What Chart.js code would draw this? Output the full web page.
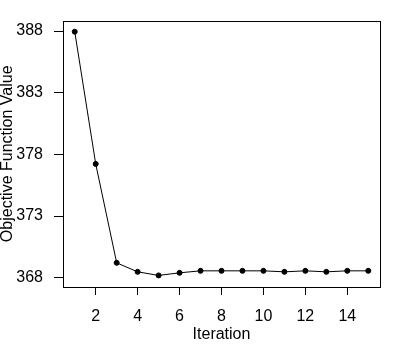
<!DOCTYPE html>
<html>
<head>
<meta charset="utf-8">
<script src="https://cdn.jsdelivr.net/npm/chart.js@4"></script>
<style>
  html, body { margin: 0; padding: 0; background: #fff; }
  #wrap { width: 400px; height: 345px; }
</style>
</head>
<body>
<div id="wrap"><canvas id="grafico" width="400" height="345"></canvas></div>
<script>
// dados
const iteracoes = [1, 2, 3, 4, 5, 6, 7, 8, 9, 10, 11, 12, 13, 14, 15];
const valores = [387.95, 377.23, 369.21, 368.48, 368.19, 368.40, 368.56, 368.56, 368.56, 368.56, 368.48, 368.56, 368.48, 368.56, 368.56];
const ticksX = [2, 4, 6, 8, 10, 12, 14];
const ticksY = [368, 373, 378, 383, 388];

const fonte = { family: "'Liberation Sans', Arial, sans-serif", size: 16 };

// caixa em volta da área do gráfico
const caixa = {
  id: 'caixa',
  afterDraw(chart) {
    const { ctx, chartArea: a } = chart;
    ctx.save();
    ctx.strokeStyle = '#000';
    ctx.lineWidth = 1;
    ctx.strokeRect(Math.round(a.left) + 0.5, Math.round(a.top) + 0.5,
      Math.round(a.right - a.left), Math.round(a.bottom - a.top));
    ctx.restore();
  }
};

new Chart(document.getElementById('grafico'), {
  type: 'line',
  data: {
    datasets: [{
      data: iteracoes.map((x, i) => ({ x: x, y: valores[i] })),
      borderColor: '#000',
      borderWidth: 1,
      pointRadius: 2.5,
      pointBackgroundColor: '#000',
      pointBorderColor: '#000',
      tension: 0
    }]
  },
  options: {
    responsive: false,
    animation: false,
    layout: { padding: { top: 19, right: 20, left: 0, bottom: 0 } },
    plugins: { legend: { display: false }, tooltip: { enabled: false } },
    scales: {
      x: {
        type: 'linear',
        min: 0.44,
        max: 15.56,
        afterBuildTicks: s => { s.ticks = ticksX.map(v => ({ value: v })); },
        afterFit: s => { s.height = 58; },
        grid: { drawOnChartArea: false, color: '#000', tickLength: 8 },
        border: { display: false },
        ticks: { color: '#000', font: fonte, padding: 12, maxRotation: 0 },
        title: { display: true, text: 'Iteration', color: '#000', font: fonte, padding: { top: 0, bottom: 1 } }
      },
      y: {
        min: 367.25,
        max: 388.85,
        afterBuildTicks: s => { s.ticks = ticksY.map(v => ({ value: v })); },
        afterFit: s => { s.width = 63; },
        grid: { drawOnChartArea: false, color: '#000', tickLength: 9 },
        border: { display: false },
        ticks: { color: '#000', font: fonte, padding: 11 },
        title: { display: true, text: 'Objective Function Value', color: '#000',
          font: { family: fonte.family, size: 16, lineHeight: 1 }, padding: { top: 0, bottom: 0 } }
      }
    }
  },
  plugins: [caixa]
});
</script>
</body>
</html>
